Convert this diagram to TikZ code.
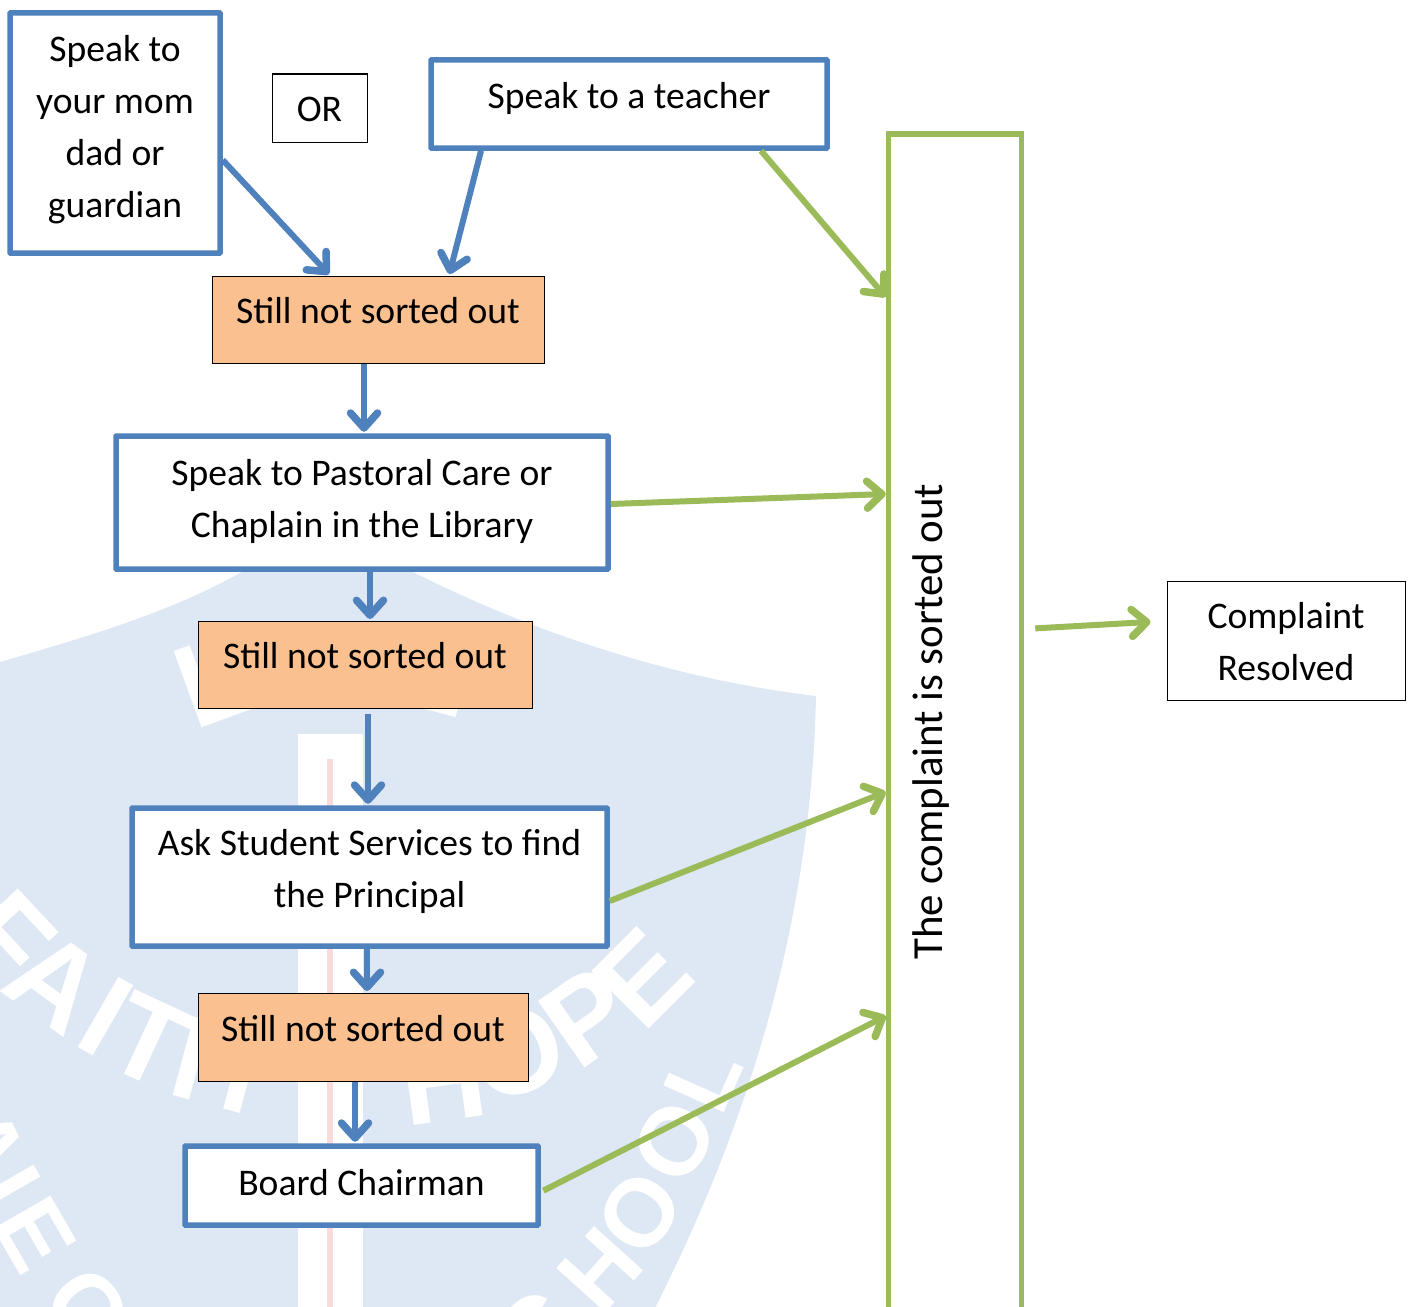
\documentclass[tikz,border=0pt]{standalone}
\usepackage{fontspec}
\setmainfont{Carlito}
\newfontfamily\markfont{Liberation Sans}
\usetikzlibrary{arrows.meta}
\definecolor{lineblue}{HTML}{4F81BD}
\definecolor{linegreen}{HTML}{9BBB59}
\definecolor{sortfill}{HTML}{FAC090}
\definecolor{shieldblue}{HTML}{DEE7F4}
\definecolor{stripepink}{HTML}{FADBDC}
\tikzset{
  textbox/.style={inner sep=0pt,align=center,font=\fontsize{37.6}{52}\selectfont},
  bluebox/.style={textbox,draw=lineblue,line width=5.5pt,fill=white,rounded corners=0.5pt},
  thinbox/.style={textbox,draw=black,line width=1pt,fill=white},
  sortbox/.style={textbox,draw=black,line width=1pt,fill=sortfill},
  greenbar/.style={textbox,draw=linegreen,line width=5.5pt,fill=white,rotate=90,font=\fontsize{42.9}{52}\selectfont},
  bluearrow/.style={draw=lineblue,line width=6pt,shorten >=1.5pt,-{Straight Barb[length=15pt,width=27pt,round,line width=7.5pt]}},
  greenarrow/.style={draw=linegreen,line width=6pt,-{Straight Barb[length=15pt,width=27pt,round,line width=7.5pt]}},
  markletter/.style={inner sep=0pt,text=white,font=\markfont\bfseries\fontsize{118}{118}\selectfont},
  marksmall/.style={inner sep=0pt,text=white,font=\markfont\bfseries\fontsize{96}{96}\selectfont}
}
\begin{document}
\begin{tikzpicture}[x=1pt,y=-1pt]
  \path[use as bounding box,clip] (0,0) rectangle (1413,1306);
  % school shield behind the chart
  \fill[shieldblue] (-60,680) -- (0,662) .. controls (90,636) and (170,612) .. (240,573)
    -- (330,520) -- (413,572) .. controls (540,636) and (680,680) .. (816,696)
    .. controls (812,880) and (770,1080) .. (656,1306) -- (640,1340) -- (-60,1340) -- cycle;
  \fill[white] (298,734) rectangle (363,1320);
  \fill[stripepink] (327,759) rectangle (333,1320);
  \foreach \letter/\posx/\posy/\rot [count=\i] in {
      F/8/937/-47, A/56/982/-36, I/106/1017/-30, T/149/1041/-25, H/217/1065/-15,
      H/443/1080/8, O/517/1053/20, P/587/1017/35, E/643/978/45,
      L/214/680/20, E/433/669/-15}
    \node[markletter,rotate=\rot] (mark\i) at (\posx,\posy) {\letter};
  \foreach \letter/\posx/\posy/\rot [count=\i] in {
      L/703/1078/66, O/675/1142/60, O/640/1213/55, H/600/1270/48, C/535/1332/42,
      A/-14/1144/-65, I/9/1188/-60, E/35/1235/-60, C/87/1307/-52}
    \node[marksmall,rotate=\rot] (marks\i) at (\posx,\posy) {\letter};
  % boxes
  \node[bluebox,minimum width=210pt,text height=204pt,text depth=36pt] (mom) at (115,133)
    {Speak to\\your mom\\dad or\\guardian};
  \node[thinbox,minimum width=95pt,text height=47pt,text depth=21pt] (or) at (319.5,108) {OR};
  \node[bluebox,minimum width=396pt,text height=48pt,text depth=40pt] (teacher) at (629,104)
    {Speak to a teacher};
  \node[sortbox,minimum width=332pt,text height=47pt,text depth=40pt] (sortA) at (378,319.5)
    {Still not sorted out};
  \node[bluebox,minimum width=492pt,text height=101pt,text depth=32pt] (pastoral) at (362,502.5)
    {Speak to Pastoral Care or\\Chaplain in the Library};
  \node[sortbox,minimum width=334pt,text height=47pt,text depth=40pt] (sortB) at (365,664.5)
    {Still not sorted out};
  \node[bluebox,minimum width=475pt,text height=99pt,text depth=39pt] (student) at (369.5,877)
    {Ask Student Services to find\\the Principal};
  \node[sortbox,minimum width=330pt,text height=48pt,text depth=40pt] (sortC) at (363,1037)
    {Still not sorted out};
  \node[bluebox,minimum width=353pt,text height=49pt,text depth=30pt] (board) at (361.5,1185.5)
    {Board Chairman};
  \node[greenbar,minimum width=1181pt,text height=53.5pt,text depth=79.5pt] (bar) at (955,724.5)
    {\hspace*{6pt}The complaint is sorted out};
  \node[thinbox,minimum width=238pt,text height=99pt,text depth=20pt] (resolved) at (1286,640.5)
    {Complaint\\Resolved};
  % blue steps
  \draw[bluearrow] (mom.east |- 0,160) to (sortA.north -| 330,0);
  \draw[bluearrow] (teacher.south -| 481,0) to (sortA.north -| 449,0);
  \draw[bluearrow] (sortA.south -| 364,0) to (pastoral.north -| 364,0);
  \draw[bluearrow] (pastoral.south -| 370,0) to (sortB.north -| 370,0);
  \draw[bluearrow,shorten <=5pt] (sortB.south -| 368,0) to (student.north -| 368,0);
  \draw[bluearrow] (student.south -| 367,0) to (sortC.north -| 367,0);
  \draw[bluearrow] (sortC.south -| 355,0) to (board.north -| 355,0);
  % green exits
  \draw[greenarrow] (teacher.south -| 761,0) to (bar.north |- 0,297);
  \draw[greenarrow] (pastoral.east |- 0,504) to (bar.north |- 0,494);
  \draw[greenarrow] (student.east |- 0,901) to (bar.north |- 0,792);
  \draw[greenarrow,shorten <=3pt] (board.east |- 0,1192) to (bar.north |- 0,1016);
  \draw[greenarrow,shorten <=11pt,shorten >=16pt] (bar.south |- 0,629) to (resolved.west |- 0,621);
\end{tikzpicture}
\end{document}
